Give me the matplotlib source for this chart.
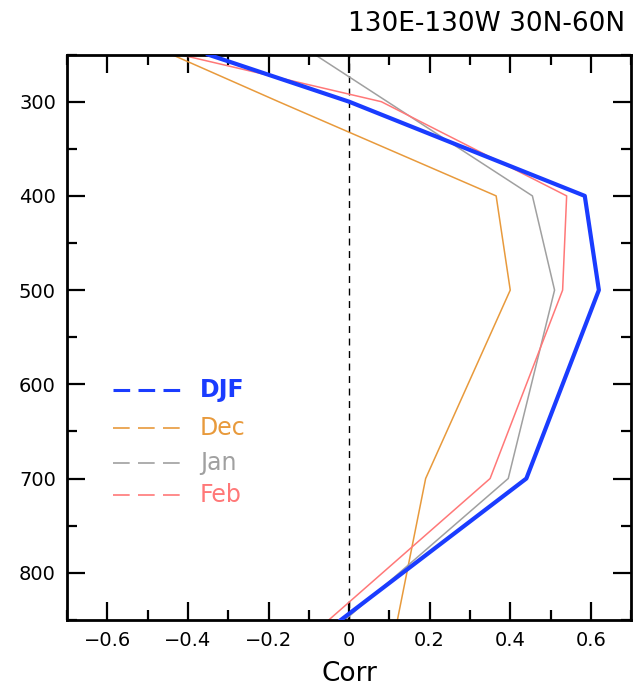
import matplotlib
matplotlib.use("Agg")
import matplotlib.pyplot as plt
from matplotlib.ticker import MultipleLocator, FixedLocator

# Pressure levels (hPa) and correlation profiles
levels = [250, 300, 400, 500, 700, 850]
djf = [-0.35, 0.0, 0.585, 0.62, 0.44, -0.02]
dec = [-0.44, -0.175, 0.365, 0.40, 0.19, 0.12]
jan = [-0.085, 0.095, 0.455, 0.51, 0.395, -0.01]
feb = [-0.42, 0.08, 0.54, 0.53, 0.35, -0.05]

series_names = ["DJF", "Dec", "Jan", "Feb"]
series_vals = [djf, dec, jan, feb]
colors = ["#1a3cff", "#e89a3c", "#a0a0a0", "#ff7878"]
widths = [3.0, 1.1, 1.1, 1.1]

title = "130E-130W 30N-60N"
xlabel = "Corr"
xticks = [-0.6, -0.4, -0.2, 0, 0.2, 0.4, 0.6]
xticklabels = ["\u22120.6", "\u22120.4", "\u22120.2", "0", "0.2", "0.4", "0.6"]
yticks = [300, 400, 500, 600, 700, 800]

fig = plt.figure(figsize=(6.33, 6.91), dpi=100)
ax = fig.add_axes([0.106, 0.103, 0.891, 0.818])

ax.axvline(0, color="black", lw=1.0, ls=(0, (5, 4)), zorder=1)

for name, vals, c, w in zip(series_names, series_vals, colors, widths):
    ax.plot(vals, levels, color=c, lw=w, zorder=3 if name == "DJF" else 2)

ax.set_xlim(-0.7, 0.7)
ax.set_ylim(850, 250)

ax.xaxis.set_major_locator(FixedLocator(xticks))
ax.set_xticklabels(xticklabels)
ax.xaxis.set_minor_locator(MultipleLocator(0.1))
ax.yaxis.set_major_locator(FixedLocator(yticks))
ax.yaxis.set_minor_locator(MultipleLocator(50))

ax.tick_params(which="both", direction="in", top=True, right=True,
               width=1.6, colors="black", labelsize=14, pad=8)
ax.tick_params(which="major", length=13)
ax.tick_params(which="minor", length=7)
for sp in ax.spines.values():
    sp.set_linewidth(2.0)

ax.set_xlabel(xlabel, fontsize=19, labelpad=8)
fig.text(0.988, 0.965, title, ha="right", va="center", fontsize=19)

# Legend drawn as dashed line samples (three dashes each) with coloured labels
leg_y = [390, 428, 463, 495]
for name, c, yp in zip(series_names, colors, leg_y):
    yf = 1 - yp / 691
    lw = 2.2 if name == "DJF" else 1.2
    dash = (0, (12.0 / lw, 6.0 / lw))
    fig.add_artist(plt.Line2D([113 / 633, 180 / 633], [yf, yf], color=c,
                              lw=lw, ls=dash, solid_capstyle="butt",
                              dash_capstyle="butt"))
    fig.text(200 / 633, yf, name, color=c, fontsize=17, va="center", ha="left",
             fontweight="bold" if name == "DJF" else "normal")

fig.savefig("out.png", dpi=100)
